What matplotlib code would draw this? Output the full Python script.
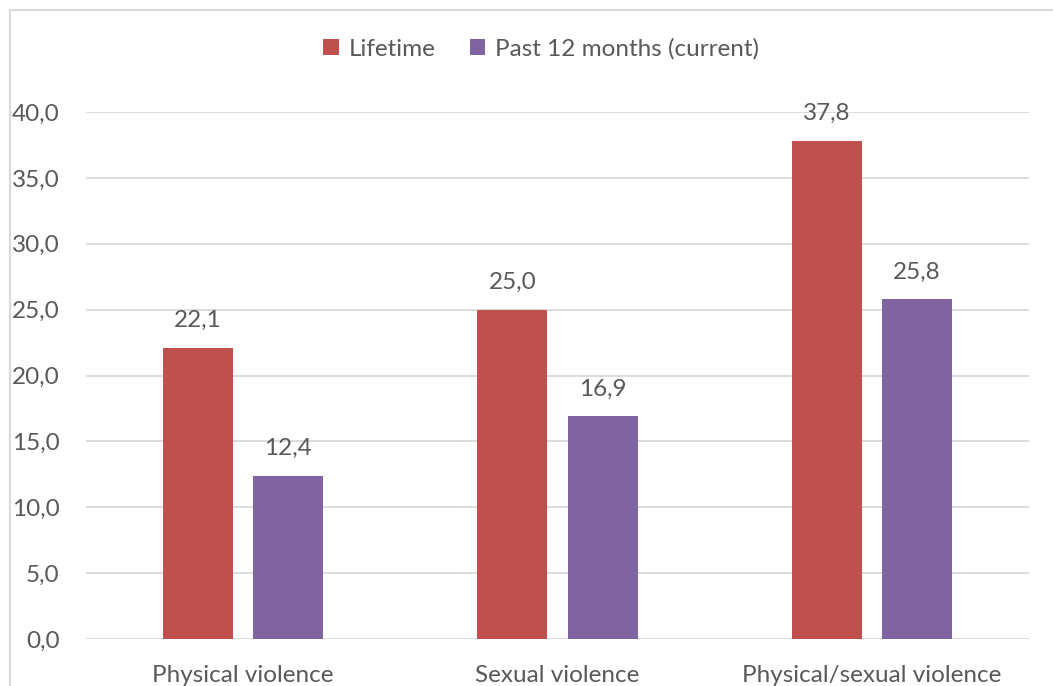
import matplotlib
matplotlib.use("Agg")
import matplotlib.pyplot as plt
from matplotlib.lines import Line2D
from matplotlib.patches import Patch
import numpy as np

categories = ["Physical violence", "Sexual violence", "Physical/sexual violence"]
lifetime = [22.1, 25.0, 37.8]
past_12_months = [12.4, 16.9, 25.8]
series_names = ["Lifetime", "Past 12 months (current)"]
y_ticks = [0, 5, 10, 15, 20, 25, 30, 35, 40]

RED = "#C0504D"
PURPLE = "#8064A2"
TEXT = "#595959"
GRID = "#D9D9D9"
FONT = "Lato"
FS = 17.5

W, H = 1053, 686
fig = plt.figure(figsize=(W / 100, H / 100), dpi=100)
ax = fig.add_axes([86 / W, 1 - 639 / H, (1029 - 86) / W, (639 - 112) / H])

x = np.arange(len(categories))
bw = 70 / 314.3
gap = 20 / 314.3
off = (bw + gap) / 2

b1 = ax.bar(x - off, lifetime, bw, color=RED, zorder=3)
b2 = ax.bar(x + off, past_12_months, bw, color=PURPLE, zorder=3)

def fmt(v):
    return f"{v:.1f}".replace(".", ",")

for bars, vals in ((b1, lifetime), (b2, past_12_months)):
    for rect, v in zip(bars, vals):
        ax.annotate(fmt(v), (rect.get_x() + rect.get_width() / 2, v),
                    xytext=(0, 12), textcoords="offset points",
                    ha="center", va="bottom", fontsize=FS, color=TEXT,
                    family=FONT)

ax.set_xlim(-0.5, len(categories) - 0.5)
ax.set_ylim(0, 40)
ax.set_yticks(y_ticks)
ax.set_yticklabels([fmt(v) for v in y_ticks], fontsize=FS, color=TEXT, family=FONT)
ax.set_xticks(x)
ax.set_xticklabels(categories, fontsize=FS, color=TEXT, family=FONT)
ax.tick_params(axis="both", length=0)
ax.tick_params(axis="y", pad=19)
ax.tick_params(axis="x", pad=18.5)
ax.yaxis.grid(True, color=GRID, linewidth=1.3, zorder=0)
for s in ax.spines.values():
    s.set_visible(False)

handles = [Patch(facecolor=RED), Patch(facecolor=PURPLE)]
leg = fig.legend(handles, series_names, loc="center", bbox_to_anchor=(541 / W, 1 - 49 / H),
                 ncol=2, frameon=False, handlelength=0.65, handleheight=0.65,
                 handletextpad=0.4, columnspacing=1.42, prop={"family": FONT, "size": FS})
for t in leg.get_texts():
    t.set_color(TEXT)

# chart border (left and top edges visible)
fig.add_artist(Line2D([9.5 / W, 9.5 / W], [0, 1 - 10 / H], color=GRID, linewidth=1.5,
                      transform=fig.transFigure))
fig.add_artist(Line2D([9.5 / W, 1], [1 - 10 / H, 1 - 10 / H], color=GRID, linewidth=1.5,
                      transform=fig.transFigure))

fig.savefig("out.png", dpi=100, facecolor="white")
